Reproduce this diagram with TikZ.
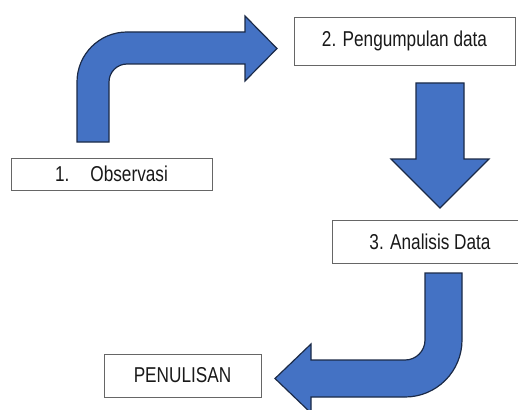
\documentclass[tikz,border=0pt]{standalone}
\usepackage{fontspec}
\setmainfont{Liberation Sans}[FakeStretch=0.8]
\definecolor{arrowblue}{HTML}{4472C4}
\definecolor{arrowline}{HTML}{1B2A47}
\tikzset{stepbox/.style={draw=black!60,line width=0.9pt,fill=white,inner sep=0pt,text=black!90,font=\fontsize{21.5}{26}\selectfont},
         blockarrow/.style={fill=arrowblue,draw=arrowline,line width=1.2pt,line join=miter}}
\begin{document}
\begin{tikzpicture}[x=1pt,y=-1pt]
                  \useasboundingbox (0,0) rectangle (518,409);
                  \node[stepbox,minimum width=201pt,minimum height=32pt] (obs) at (111.5,174) {1.\hspace{21pt}Observasi};
                  \node[stepbox,minimum width=221pt,minimum height=48pt] (kumpul) at (404.5,41) {2. Pengumpulan data};
                  \node[stepbox,minimum width=196pt,minimum height=43pt] (analisis) at (430,241.5) {3. Analisis Data};
                  \node[stepbox,minimum width=157pt,minimum height=43pt] (tulis) at (182.5,375.5) {PENULISAN};
                  \draw[blockarrow] (77,142) -- (77,82) arc[start angle=180,end angle=270,radius=50]
                        -- (245,32) -- (245,16) -- (277,48.5) -- (245,81) -- (245,64) -- (127,64)
                        arc[start angle=270,end angle=180,radius=18] -- (109,142) -- cycle;
                  \draw[blockarrow] (416,83) -- (464,83) -- (464,159) -- (489,159) -- (440,208)
                        -- (391,159) -- (416,159) -- cycle;
                  \draw[blockarrow] (425,273) -- (462,273) -- (462,340) arc[start angle=0,end angle=90,radius=57]
                        -- (311,397) -- (311,413) -- (275,378.5) -- (311,344) -- (311,360) -- (405,360)
                        arc[start angle=90,end angle=0,radius=20] -- cycle;
              \end{tikzpicture}
\end{document}
